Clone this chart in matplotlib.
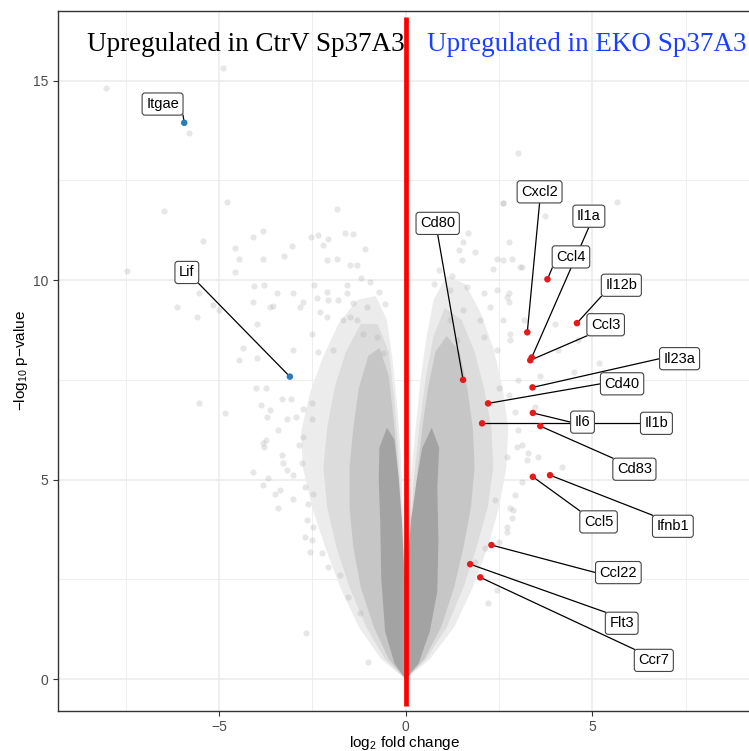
import numpy as np
import matplotlib.pyplot as plt
from matplotlib.ticker import MultipleLocator

plt.rcParams['font.family'] = ['Liberation Sans', 'DejaVu Sans']
plt.rcParams['mathtext.default'] = 'regular'

# highlighted genes (log2 FC, -log10 p) and where their labels sit
genes = ['Itgae', 'Lif', 'Cd80', 'Cxcl2', 'Il1a', 'Ccl4', 'Il12b', 'Ccl3', 'Il23a',
         'Cd40', 'Il6', 'Il1b', 'Cd83', 'Ccl5', 'Ifnb1', 'Ccl22', 'Flt3', 'Ccr7']
gene_lfc = [-5.93, -3.10, 1.54, 3.26, 3.38, 3.80, 4.59, 3.34, 3.40,
            2.21, 3.41, 2.05, 3.61, 3.41, 3.87, 2.30, 1.73, 2.00]
gene_p = [13.94, 7.58, 7.50, 8.69, 8.06, 10.02, 8.92, 7.99, 7.31,
          6.91, 6.67, 6.41, 6.34, 5.07, 5.11, 3.36, 2.88, 2.55]
label_x = [-6.51, -5.86, 0.86, 3.59, 4.91, 4.43, 5.78, 5.36, 7.34,
           5.80, 4.74, 6.72, 6.13, 5.17, 7.16, 5.70, 5.79, 6.65]
label_y = [14.41, 10.19, 11.42, 12.21, 11.60, 10.58, 9.87, 8.88, 8.03,
           7.40, 6.44, 6.41, 5.26, 3.94, 3.83, 2.67, 1.40, 0.47]

# scattered background genes
halo_x = [-8.03, -4.90, -5.80, -4.79, -6.46, -1.84, -3.81, -4.10, -5.44, -4.58, -4.46, -3.81,
          -3.26, -3.05, -2.53, -2.34, -2.07, -2.20, -1.84, -1.40, -1.10, -2.11, -7.45, -4.56,
          -4.06, -3.79, -5.54, -6.11, -5.60, -5.15, -5.01, -4.08, -3.54, -3.45, -3.01, -2.74,
          -2.45, -2.07, -1.80, -1.58, -1.40, -1.49, -3.99, -4.35, -3.01, -2.51, -4.46, -3.99,
          -2.34, -1.94, -2.11, -4.01, -3.74, -5.54, -4.84, -3.32, -3.07, -3.87, -3.63, -3.72,
          -3.17, -2.94, -3.41, -2.76, -2.50, -2.51, -3.75, -3.79, -3.32, -2.74, -2.86, -4.08,
          -3.28, -3.19, -3.01, -2.78, -3.83, -3.68, -3.36, -3.50, -3.01, -3.41, -2.69, -2.47,
          -2.61, -2.65, -2.69, -2.51, -2.56, -2.25, -2.07, -1.76, -1.53, -1.22, -2.68, -1.00,
          -2.47, -3.81, -1.62, -1.49, -1.31, -1.58, -1.04, -1.67, -1.31, -1.13, -0.77, -0.60,
          -2.38, -2.11, -3.63, -2.83, -2.29, -0.95, -0.70, -1.20, -0.55,
          3.00, 5.66, 2.61, 3.74, 1.68, 1.43, 1.55, 1.85, 1.50, 2.76, 2.85, 3.07, 2.34, 2.44,
          2.62, 3.11, 2.76, 2.76, 3.16, 4.01, 4.63, 4.08, 2.80, 4.50, 5.19, 2.62, 3.02, 3.29,
          3.56, 4.19, 3.11, 2.94, 2.80, 2.85, 2.71, 2.49, 2.13, 1.86, 2.94, 2.76, 3.47, 3.11,
          2.98, 3.25, 2.71, 2.40, 2.89, 2.22, 2.44, 2.71, 1.19, 1.64, 2.09, 2.27, 2.44, 2.71,
          1.55, 1.19, 2.00, 2.62, 2.09, 2.44, 2.80, 1.37, 3.60, 3.00, 2.50, 0.90, 1.25, 0.75]
halo_y = [14.82, 15.32, 13.69, 11.95, 11.73, 11.77, 11.23, 11.09, 10.99, 10.80, 10.52, 10.52,
          10.60, 10.86, 11.09, 11.13, 11.02, 10.88, 10.54, 11.15, 10.79, 10.50, 10.23, 10.21,
          9.85, 9.87, 9.68, 9.33, 9.08, 9.37, 9.25, 9.46, 9.35, 9.67, 9.67, 9.46,
          9.87, 9.50, 9.50, 9.67, 9.42, 9.08, 8.91, 8.29, 8.25, 8.66, 7.99, 8.04,
          8.20, 8.25, 9.08, 7.30, 7.29, 6.91, 6.67, 7.02, 7.03, 6.87, 6.74, 6.57,
          6.51, 6.57, 6.24, 6.76, 6.93, 6.53, 5.99, 5.82, 5.61, 6.07, 5.86, 5.20,
          5.41, 5.24, 5.11, 5.41, 4.86, 5.03, 4.74, 4.63, 4.51, 4.28, 4.82, 4.65,
          4.40, 3.98, 3.57, 3.48, 3.19, 3.15, 2.81, 2.61, 2.06, 1.65, 1.16, 0.43,
          3.82, 5.91, 11.17, 10.38, 10.38, 9.87, 9.33, 9.00, 9.00, 8.66, 8.58, 8.16,
          9.54, 9.71, 9.33, 9.33, 9.21, 9.95, 9.70, 10.05, 9.40,
          13.18, 11.96, 11.94, 11.60, 11.17, 10.75, 10.95, 10.70, 10.50, 10.96, 10.52, 10.32, 10.27, 10.54,
          11.92, 10.33, 9.67, 9.46, 9.00, 8.91, 8.50, 8.25, 8.66, 7.70, 7.91, 10.50, 6.24, 5.66,
          5.57, 5.32, 4.95, 4.61, 4.28, 4.03, 3.69, 3.44, 3.28, 2.94, 6.70, 7.12, 6.82, 5.86,
          5.82, 5.49, 5.57, 4.49, 4.24, 1.90, 2.23, 3.82, 9.75, 9.83, 9.67, 9.33, 9.75, 9.58,
          9.25, 9.00, 9.00, 9.00, 8.58, 8.25, 8.50, 8.50, 7.60, 7.50, 7.30, 10.25, 10.10, 9.90]

# outlines of the cloud density, outermost (faint speckle) to solid core
band1_left_x = [0, -0.65, -1.25, -1.75, -2.15, -2.5, -2.75, -2.8, -2.55, -2.2, -1.8, -1.3, -0.8, -0.5, -0.35, -0.22, -0.12, -0.05, 0]
band1_left_y = [0, 0.5, 1.3, 2.3, 3.3, 4.3, 5.3, 6.2, 7.2, 8.1, 8.9, 9.5, 9.6, 9.0, 8.0, 6.8, 5.5, 3.5, 2.0]
band1_right_x = [0, 0.65, 1.3, 1.8, 2.2, 2.5, 2.7, 2.75, 2.6, 2.35, 2.0, 1.6, 1.1, 0.75, 0.55, 0.4, 0.27, 0.14, 0.05, 0]
band1_right_y = [0, 0.5, 1.3, 2.3, 3.3, 4.3, 5.3, 6.3, 7.3, 8.3, 9.2, 9.9, 10.1, 9.5, 8.5, 7.5, 6.3, 5.0, 3.2, 2.0]
band2_left_x = [0, -0.55, -1.05, -1.5, -1.85, -2.1, -2.2, -2.1, -1.9, -1.6, -1.2, -0.75, -0.45, -0.3, -0.18, -0.07, 0]
band2_left_y = [0, 0.5, 1.3, 2.3, 3.3, 4.3, 5.3, 6.3, 7.3, 8.2, 8.9, 8.9, 8.2, 7.0, 5.5, 3.5, 2.0]
band2_right_x = [0, 0.55, 1.1, 1.55, 1.9, 2.2, 2.35, 2.3, 2.1, 1.85, 1.5, 1.05, 0.75, 0.55, 0.38, 0.22, 0.08, 0]
band2_right_y = [0, 0.5, 1.3, 2.3, 3.3, 4.3, 5.3, 6.3, 7.3, 8.2, 9.0, 9.3, 8.6, 7.6, 6.4, 5.0, 3.3, 2.0]
band3_left_x = [0, -0.45, -0.85, -1.2, -1.4, -1.5, -1.5, -1.4, -1.25, -1.0, -0.7, -0.45, -0.32, -0.2, -0.1, 0]
band3_left_y = [0, 0.5, 1.3, 2.3, 3.3, 4.3, 5.3, 6.3, 7.3, 8.1, 8.3, 7.6, 6.5, 5.2, 3.5, 2.0]
band3_right_x = [0, 0.5, 0.95, 1.3, 1.55, 1.75, 1.85, 1.8, 1.65, 1.45, 1.1, 0.8, 0.6, 0.45, 0.3, 0.12, 0]
band3_right_y = [0, 0.5, 1.3, 2.3, 3.3, 4.3, 5.3, 6.3, 7.3, 8.2, 8.6, 8.2, 7.3, 6.3, 5.0, 3.5, 2.0]
core_left_x = [0, -0.3, -0.55, -0.65, -0.68, -0.72, -0.7, -0.5, -0.3, -0.18, -0.1, -0.05, 0]
core_left_y = [0, 0.4, 1.2, 2.5, 4.0, 5.0, 5.8, 6.3, 6.0, 5.0, 4.0, 3.0, 2.0]
core_right_x = [0, 0.35, 0.65, 0.85, 0.88, 0.85, 0.9, 0.7, 0.45, 0.3, 0.15, 0.06, 0]
core_right_y = [0, 0.4, 1.2, 2.2, 3.5, 4.8, 5.8, 6.3, 5.8, 5.0, 4.0, 3.0, 2.0]

fig = plt.figure(figsize=(7.49, 7.51), dpi=100)
ax = fig.add_axes([0.077, 0.0537, 0.926, 0.9321])

bands = [(band1_left_x, band1_left_y, band1_right_x, band1_right_y, '#ECECEC'),
         (band2_left_x, band2_left_y, band2_right_x, band2_right_y, '#DCDCDC'),
         (band3_left_x, band3_left_y, band3_right_x, band3_right_y, '#C6C6C6'),
         (core_left_x, core_left_y, core_right_x, core_right_y, '#A3A3A3')]
for i, (lx_, ly_, rx_, ry_, c) in enumerate(bands):
    ax.fill(lx_, ly_, color=c, lw=0, zorder=1.2 + 0.05 * i)
    ax.fill(rx_, ry_, color=c, lw=0, zorder=1.2 + 0.05 * i)
ax.scatter(halo_x, halo_y, s=20, color='#B0B0B0', alpha=0.3, lw=0, zorder=1.5)

# red dividing line
ax.plot([0, 0], [-0.68, 16.6], color='red', lw=3.4, solid_capstyle='butt', zorder=3)

cols = ['#2C7BB6' if v < 0 else '#E41A1C' for v in gene_lfc]
ax.scatter(gene_lfc, gene_p, s=22, color=cols, lw=0, zorder=5)

texts = []
for g, lx, ly in zip(genes, label_x, label_y):
    t = ax.text(lx, ly, g, ha='center', va='center', fontsize=10.5, zorder=6,
                bbox=dict(boxstyle='round,pad=0.28,rounding_size=0.2', fc='white', ec='#444444', lw=0.8))
    texts.append(t)

ax.text(-4.28, 15.75, 'Upregulated in CtrV Sp37A3', ha='center', va='baseline',
        fontsize=19.5, family='Liberation Serif', color='black', zorder=6)
ax.text(4.84, 15.75, 'Upregulated in EKO Sp37A3', ha='center', va='baseline',
        fontsize=19.5, family='Liberation Serif', color='#1a40ff', zorder=6)

ax.set_xlim(-9.32, 9.26)
ax.set_ylim(-0.79, 16.75)
ax.xaxis.set_major_locator(MultipleLocator(5))
ax.yaxis.set_major_locator(MultipleLocator(5))
ax.xaxis.set_minor_locator(MultipleLocator(2.5))
ax.yaxis.set_minor_locator(MultipleLocator(2.5))
ax.grid(which='major', color='#EBEBEB', lw=1.1, zorder=0)
ax.grid(which='minor', color='#EBEBEB', lw=0.6, zorder=0)
ax.set_axisbelow(True)
ax.tick_params(which='major', length=3.5, width=0.8, pad=3, color='#333333',
               labelcolor='#4D4D4D', labelsize=10)
ax.tick_params(which='minor', length=0)
for sp in ax.spines.values():
    sp.set_color('#333333')
    sp.set_linewidth(1.0)

ax.set_xlabel('log$_2$ fold change', fontsize=11, labelpad=0)
ax.set_ylabel('$-$log$_{10}$ p$-$value', fontsize=11, labelpad=2)

# connector segments: from label edge (snapped to corner / mid-edge) to point
fig.canvas.draw()
inv = ax.transData.inverted()
for t, px, py in zip(texts, gene_lfc, gene_p):
    bb = t.get_bbox_patch().get_window_extent()
    cx, cy = (bb.x0 + bb.x1) / 2, (bb.y0 + bb.y1) / 2
    tx, ty = ax.transData.transform((px, py))
    dx, dy = tx - cx, ty - cy
    s = min((bb.width / 2) / abs(dx) if dx else np.inf, (bb.height / 2) / abs(dy) if dy else np.inf)
    ex, ey = cx + s * dx, cy + s * dy
    cands = [(x, y) for x in (bb.x0, cx, bb.x1) for y in (bb.y0, cy, bb.y1) if (x, y) != (cx, cy)]
    sx, sy = min(cands, key=lambda c: (c[0] - ex) ** 2 + (c[1] - ey) ** 2)
    x0, y0 = inv.transform((sx, sy))
    ax.plot([x0, px], [y0, py], color='black', lw=0.9, zorder=4)

fig.savefig('out.png', dpi=100)
